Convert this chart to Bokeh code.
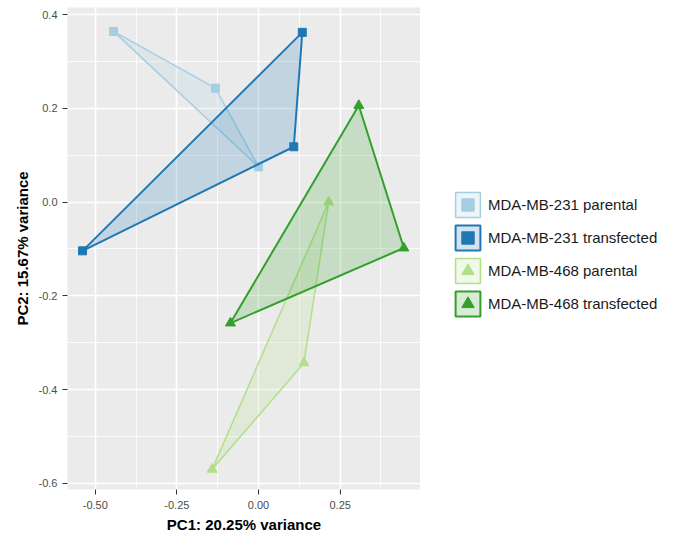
from bokeh.plotting import figure
from bokeh.layouts import row
from bokeh.models import Range1d, FixedTicker, NumeralTickFormatter, Legend, LegendItem
from bokeh.embed import file_html
from bokeh.resources import INLINE

groups = ["MDA-MB-231 parental", "MDA-MB-231 transfected",
          "MDA-MB-468 parental", "MDA-MB-468 transfected"]
pc1_231_parental = [-0.444, -0.132, 0.000]
pc2_231_parental = [0.364, 0.243, 0.075]
pc1_231_transfected = [0.134, 0.108, -0.539]
pc2_231_transfected = [0.362, 0.118, -0.104]
pc1_468_parental = [0.215, 0.139, -0.142]
pc2_468_parental = [0.000, -0.343, -0.570]
pc1_468_transfected = [0.307, 0.445, -0.086]
pc2_468_transfected = [0.206, -0.098, -0.258]
x_ticks = [-0.5, -0.25, 0.0, 0.25]
x_minor = [-0.375, -0.125, 0.125, 0.375]
y_ticks = [-0.6, -0.4, -0.2, 0.0, 0.2, 0.4]
y_minor = [-0.5, -0.3, -0.1, 0.1, 0.3]

xs = [pc1_231_parental, pc1_231_transfected, pc1_468_parental, pc1_468_transfected]
ys = [pc2_231_parental, pc2_231_transfected, pc2_468_parental, pc2_468_transfected]
colors = ["#a6cee3", "#1f78b4", "#b2df8a", "#33a02c"]
markers = ["square", "square", "triangle", "triangle"]
msizes = [8, 8, 10, 10]
lwidths = [1.5, 2, 1.5, 2]

p = figure(width=420, height=535, output_backend="svg", toolbar_location=None,
           x_range=Range1d(-0.585, 0.496), y_range=Range1d(-0.613, 0.415),
           min_border_left=67, min_border_right=0, min_border_top=7, min_border_bottom=45)
p.background_fill_color = "#EBEBEB"
p.border_fill_color = "white"
p.outline_line_color = None

# legend-only figure to the right of the panel; its ranges keep the
# duplicate glyphs out of view so only the legend keys show
lg = figure(width=255, height=535, output_backend="svg", toolbar_location=None,
            x_axis_type=None, y_axis_type=None,
            x_range=Range1d(10, 11), y_range=Range1d(10, 11),
            min_border_left=0, min_border_right=0, min_border_top=0, min_border_bottom=0)
lg.outline_line_color = None
lg.background_fill_color = "white"
lg.border_fill_color = "white"
lg.grid.visible = False

items = []
for g, x, y, c, m, s, lw in zip(groups, xs, ys, colors, markers, msizes, lwidths):
    p.patch(x, y, fill_color=c, fill_alpha=0.2, line_color=c, line_width=lw)
    p.scatter(x, y, marker=m, size=s, fill_color=c, line_color=c)
    pr = lg.patch(x, y, fill_color=c, fill_alpha=0.2, line_color=c, line_width=lw)
    sr = lg.scatter(x, y, marker=m, size=s, fill_color=c, line_color=c)
    items.append(LegendItem(label=g, renderers=[pr, sr]))

legend = Legend(items=items, location=(32, 170), padding=0, margin=0, spacing=2,
                glyph_width=31, glyph_height=31, label_standoff=5,
                label_text_font="Liberation Sans", label_text_font_size="15px",
                label_text_color="#1a1a1a", border_line_color=None,
                background_fill_color="white", background_fill_alpha=1.0)
lg.add_layout(legend, "center")

p.xaxis.ticker = FixedTicker(ticks=x_ticks, minor_ticks=x_minor)
p.yaxis.ticker = FixedTicker(ticks=y_ticks, minor_ticks=y_minor)
p.xaxis.formatter = NumeralTickFormatter(format="0.00")
p.yaxis.formatter = NumeralTickFormatter(format="0.0")

for ax in (p.xaxis, p.yaxis):
    ax.axis_line_color = None
    ax.major_tick_in = 0
    ax.major_tick_out = 5
    ax.major_tick_line_color = "#333333"
    ax.minor_tick_line_color = None
    ax.major_label_text_font = "Liberation Sans"
    ax.major_label_text_font_size = "11px"
    ax.major_label_text_color = "#4D4D4D"
    ax.axis_label_text_font = "Liberation Sans"
    ax.axis_label_text_font_size = "15px"
    ax.axis_label_text_font_style = "bold"
    ax.axis_label_text_color = "black"

p.xaxis.major_label_standoff = 6
p.xaxis.axis_label_standoff = 4
p.yaxis.major_label_standoff = 5
p.yaxis.axis_label_standoff = 5

p.xaxis.axis_label = "PC1: 20.25% variance"
p.yaxis.axis_label = "PC2: 15.67% variance"

p.grid.grid_line_color = "white"
p.grid.grid_line_width = 1.6
p.grid.minor_grid_line_color = "white"
p.grid.minor_grid_line_width = 0.8

layout = row(p, lg, spacing=0)
open("out.html", "w").write(file_html(layout, INLINE))
